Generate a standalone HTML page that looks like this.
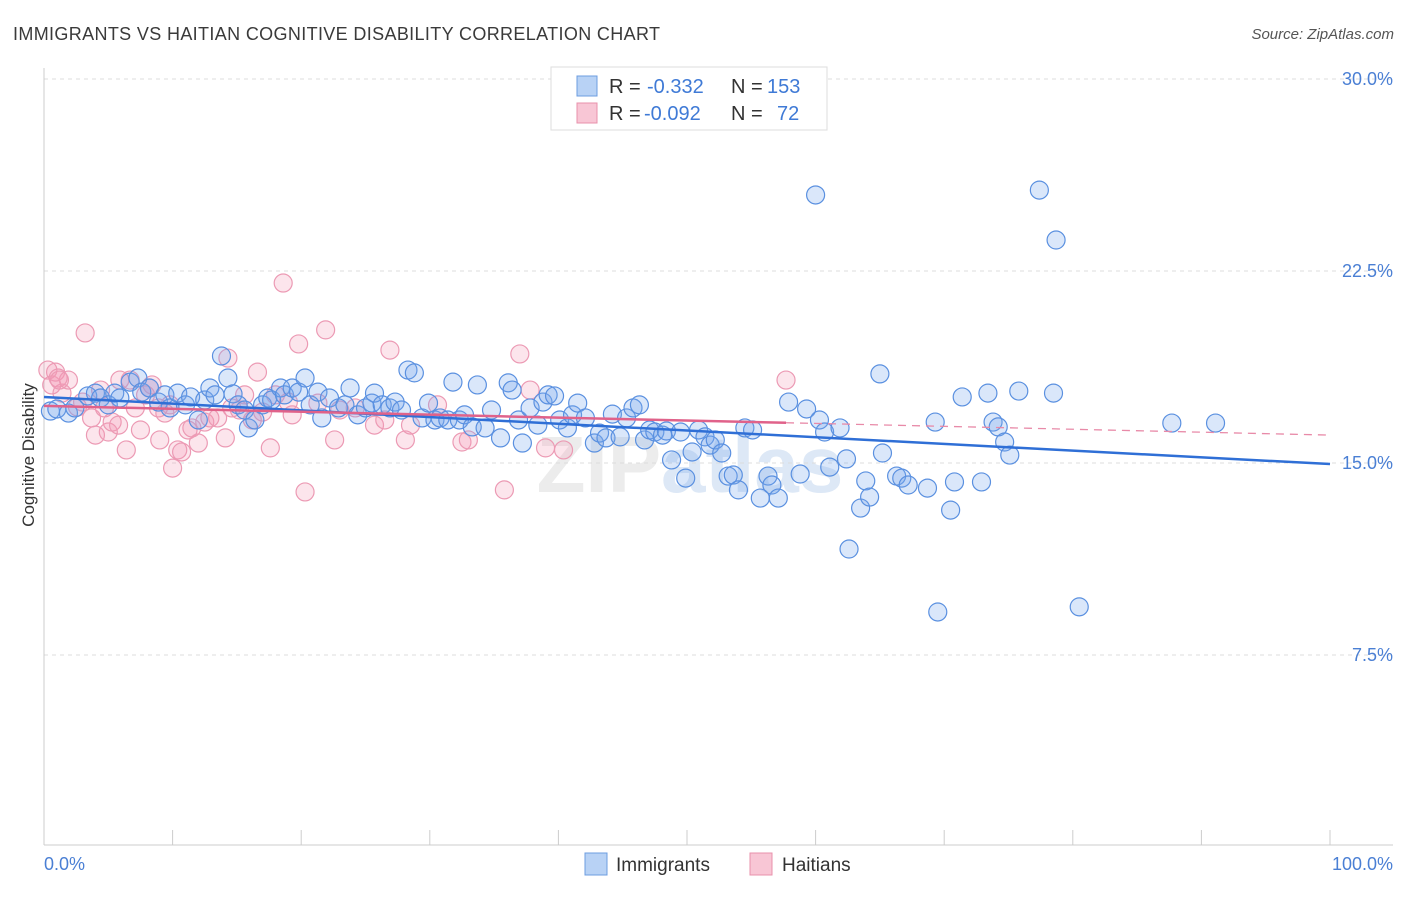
<!DOCTYPE html>
<html><head><meta charset="utf-8"><style>
body{margin:0;background:#fff;font-family:"Liberation Sans",sans-serif}
svg text{font-family:"Liberation Sans",sans-serif}
</style></head><body>
<svg id="chart" width="1406" height="892" xmlns="http://www.w3.org/2000/svg">
<text x="13" y="40" font-size="18" fill="#3a3a3a" textLength="647">IMMIGRANTS VS HAITIAN COGNITIVE DISABILITY CORRELATION CHART</text>
<text x="1394" y="39" font-size="15" fill="#555" font-style="italic" text-anchor="end">Source: ZipAtlas.com</text>
<text x="690" y="492" font-size="80" fill="#ececec" text-anchor="middle" font-weight="bold">ZIP<tspan fill="#dde8f6">atlas</tspan></text>
<g id="grid"></g><g id="axes"></g><g id="pink"></g><g id="blue"></g><g id="trends"></g>
<text transform="translate(34,455) rotate(-90)" font-size="17" fill="#333" text-anchor="middle">Cognitive Disability</text>
<g>
<rect x="551" y="67" width="276" height="63" fill="#fff" stroke="#ddd"/>
<rect x="577" y="76" width="20" height="20" fill="#b8d2f5" stroke="#6c9de0"/>
<text y="93" font-size="20" fill="#333"><tspan x="609">R =</tspan><tspan x="647" fill="#3f7ad6">-0.332</tspan><tspan x="731">N =</tspan><tspan x="767" fill="#3f7ad6">153</tspan></text>
<rect x="577" y="103" width="20" height="20" fill="#f8c6d5" stroke="#e890ab"/>
<text y="120" font-size="20" fill="#333"><tspan x="609">R =</tspan><tspan x="644" fill="#3f7ad6">-0.092</tspan><tspan x="731">N =</tspan><tspan x="777" fill="#3f7ad6">72</tspan></text>
</g>
<g>
<rect x="585" y="853" width="22" height="22" fill="#b8d2f5" stroke="#6c9de0"/>
<text x="616" y="871" font-size="19" fill="#333">Immigrants</text>
<rect x="750" y="853" width="22" height="22" fill="#f8c6d5" stroke="#e890ab"/>
<text x="782" y="871" font-size="19" fill="#333">Haitians</text>
</g>
</svg>
<script>
const yTicks=[7.5,15,22.5,30];
const yTickLabels=["7.5%","15.0%","22.5%","30.0%"];
const xTickLabels=["0.0%","100.0%"];
const blueX=[0.5,1.0,1.9,2.4,3.4,4.0,4.4,5.0,5.5,5.9,6.7,7.3,7.6,8.2,8.9,9.4,9.8,10.4,11.0,11.4,12.0,12.5,12.9,13.3,13.8,14.3,14.7,15.1,15.6,15.9,16.4,17.0,17.4,17.7,18.4,18.7,19.3,19.8,20.3,20.7,21.3,21.6,22.2,22.9,23.4,23.8,24.4,25.0,25.5,25.7,26.3,26.9,27.3,27.8,28.3,28.8,29.4,29.9,30.4,30.8,31.4,31.8,32.3,32.7,33.3,33.7,34.3,34.8,35.5,36.1,36.4,36.9,37.2,37.8,38.4,38.8,39.2,39.7,40.1,40.7,41.1,41.5,42.1,42.8,43.2,43.7,44.2,44.8,45.3,45.8,46.3,46.7,47.1,47.5,48.1,48.4,48.8,49.5,49.9,50.4,50.9,51.4,51.8,52.2,52.7,53.2,53.6,54.0,54.5,55.1,55.7,56.3,56.6,57.1,57.9,58.8,59.3,60.0,60.3,60.7,61.1,61.9,62.4,62.6,63.5,63.9,64.2,65.0,65.2,66.3,66.7,67.2,68.7,69.3,69.5,70.5,70.8,71.4,72.9,73.4,73.8,74.2,74.7,75.1,75.8,77.4,78.5,78.7,80.5,87.7,91.1];
const blueY=[17.03,17.11,16.95,17.15,17.62,17.73,17.54,17.27,17.73,17.54,18.16,18.32,17.77,17.93,17.38,17.66,17.15,17.73,17.27,17.58,16.68,17.46,17.93,17.66,19.18,18.32,17.70,17.27,17.07,16.37,16.68,17.27,17.54,17.46,17.93,17.66,17.93,17.77,18.32,17.27,17.77,16.76,17.54,17.15,17.27,17.93,16.88,17.15,17.34,17.73,17.27,17.15,17.38,17.07,18.63,18.52,16.76,17.34,16.68,16.76,16.68,18.16,16.68,16.88,16.41,18.05,16.37,17.07,15.98,18.13,17.85,16.68,15.78,17.15,16.48,17.38,17.66,17.62,16.68,16.37,16.88,17.34,16.76,15.78,16.17,15.98,16.91,16.02,16.76,17.15,17.27,15.90,16.29,16.21,16.09,16.25,15.12,16.21,14.41,15.43,16.29,16.02,15.70,15.90,15.39,14.49,14.53,13.95,16.37,16.29,13.63,14.49,14.14,13.63,17.38,14.57,17.11,25.47,16.68,16.21,14.84,16.37,15.16,11.64,13.24,14.30,13.67,18.48,15.39,14.49,14.41,14.14,14.02,16.60,9.18,13.16,14.26,17.58,14.26,17.73,16.60,16.41,15.82,15.31,17.81,25.66,17.73,23.71,9.38,16.56,16.56];
const pinkX=[0.3,0.6,0.9,1.1,1.4,1.9,2.6,3.0,3.7,4.0,4.4,4.7,5.0,5.3,5.8,6.4,6.7,7.1,7.5,7.9,8.4,8.9,9.0,9.4,9.8,10.0,10.4,10.7,11.2,11.5,12.0,12.5,12.9,13.5,14.1,14.3,14.6,15.2,15.6,16.2,16.6,17.0,17.6,18.0,18.6,19.0,19.3,19.8,20.3,21.3,21.9,22.6,23.0,24.2,25.7,26.5,26.9,28.1,28.5,30.6,32.5,33.0,35.8,37.0,37.8,39.0,40.4,57.7,3.2,5.9,8.2,1.2];
const pinkY=[18.63,18.05,18.55,18.32,17.73,18.24,17.19,17.38,16.76,16.09,17.85,17.15,16.21,16.60,16.48,15.51,18.24,17.15,16.29,17.66,18.05,17.15,15.90,16.95,17.27,14.80,15.51,15.43,16.29,16.37,15.78,16.60,16.76,16.76,15.98,19.10,17.15,17.07,17.66,16.68,18.55,16.99,15.59,17.66,22.03,17.38,16.88,19.65,13.87,17.34,20.20,15.90,17.07,17.15,16.48,16.68,19.41,15.90,16.48,17.27,15.82,15.90,13.95,19.26,17.85,15.59,15.51,18.24,20.08,18.24,17.93,18.24];
const blueTrend=[17.58,14.96];
const pinkTrend=[17.23,16.09];
const NS="http://www.w3.org/2000/svg";
const L=44,R=1330,T=79,B=847;
const sx=v=>L+(R-L)*v/100;
const sy=v=>B-(B-T)*v/30;
function mk(tag,attrs,parent){const e=document.createElementNS(NS,tag);for(const k in attrs)e.setAttribute(k,attrs[k]);document.getElementById(parent).appendChild(e);return e;}
yTicks.forEach((t,i)=>{
 const g=mk('line',{x1:L,x2:1393,y1:sy(t),y2:sy(t),stroke:'#dcdcdc','stroke-dasharray':'4,4'},'grid');
 
 
 const tx=mk('text',{x:1393,y:sy(t)+6,'font-size':18,fill:'#4a7fd4','text-anchor':'end'},'axes');
 tx.textContent=yTickLabels[i];
 
 
});
const ax=mk('line',{x1:L,x2:1393,y1:845,y2:845,stroke:'#ccc'},'axes');


const ay=mk('line',{x1:L,x2:L,y1:68,y2:845,stroke:'#ccc'},'axes');


for(let i=0;i<=10;i++){
 const tk=mk('line',{x1:sx(i*10),x2:sx(i*10),y1:830,y2:845,stroke:'#ccc'},'axes');
 
 
}
const xl0=mk('text',{x:44,y:870,'font-size':18,fill:'#4a7fd4'},'axes');
xl0.textContent=xTickLabels[0];


const xl1=mk('text',{x:1393,y:870,'font-size':18,fill:'#4a7fd4','text-anchor':'end'},'axes');
xl1.textContent=xTickLabels[1];


pinkX.forEach((x,i)=>{
 const c=mk('circle',{cx:sx(x),cy:sy(pinkY[i]),r:9,fill:'rgba(244,150,180,0.25)',stroke:'#ec9ab4','stroke-width':1.2},'pink');
 
 
});
blueX.forEach((x,i)=>{
 const c=mk('circle',{cx:sx(x),cy:sy(blueY[i]),r:9,fill:'rgba(120,165,235,0.27)',stroke:'#5a90e0','stroke-width':1.2},'blue');
 
 
});
const bt=mk('line',{x1:sx(0),y1:sy(blueTrend[0]),x2:sx(100),y2:sy(blueTrend[1]),stroke:'#2f6fd6','stroke-width':2.5},'trends');


const pmax=Math.max(...pinkX);
const py=x=>pinkTrend[0]+(pinkTrend[1]-pinkTrend[0])*x/100;
const pt=mk('line',{x1:sx(0),y1:sy(py(0)),x2:sx(pmax),y2:sy(py(pmax)),stroke:'#e0628a','stroke-width':2.5},'trends');


const pd=mk('line',{x1:sx(pmax),y1:sy(py(pmax)),x2:sx(100),y2:sy(py(100)),stroke:'#e88aa8','stroke-width':1.3,'stroke-dasharray':'8,6'},'trends');


</script>
</body></html>
